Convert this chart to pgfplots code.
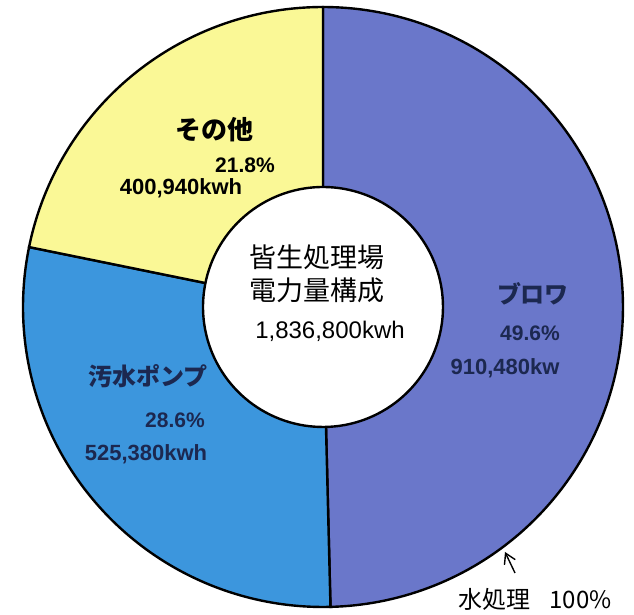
\documentclass[border=0pt]{standalone}
\usepackage{pgfplots}
\pgfplotsset{compat=1.18}
\usepackage{fontspec}
\setmainfont{Liberation Sans}
\newfontfamily\jp{Noto Sans CJK JP}
\usetikzlibrary{arrows.meta}
\definecolor{blowcol}{RGB}{106,119,202}
\definecolor{pumpcol}{RGB}{60,150,221}
\definecolor{othcol}{RGB}{250,248,150}
\definecolor{navy}{RGB}{28,40,80}
% data (percent of 1,836,800 kWh)
\def\pBlow{49.6}
\def\pPump{28.6}
\def\pOther{21.8}
\begin{document}
\begin{tikzpicture}
\pgfmathsetmacro{\aA}{90}
\pgfmathsetmacro{\aB}{90-3.6*\pBlow}
\pgfmathsetmacro{\aC}{\aB-3.6*\pPump}
\pgfmathsetmacro{\aD}{\aC-3.6*\pOther}
\begin{axis}[
  scale only axis, width=317pt, height=307.5pt,
  xmin=0, xmax=634, ymin=0, ymax=615,
  hide axis, clip=false,
]
\addplot[fill=blowcol, draw=black, line width=1.2pt, domain=\aB:\aA, samples=150]
  ({323+300*cos(x)},{308+300*sin(x)}) -- (axis cs:323,308) -- cycle;
\addplot[fill=pumpcol, draw=black, line width=1.2pt, domain=\aC:\aB, samples=100]
  ({323+300*cos(x)},{308+300*sin(x)}) -- (axis cs:323,308) -- cycle;
\addplot[fill=othcol, draw=black, line width=1.2pt, domain=\aD:\aC, samples=100]
  ({323+300*cos(x)},{308+300*sin(x)}) -- (axis cs:323,308) -- cycle;
\addplot[fill=white, draw=black, line width=1.2pt, domain=0:360, samples=150]
  ({323+120*cos(x)},{308+120*sin(x)}) -- cycle;

% labels
\node[font=\jp\fontsize{13}{15}\selectfont\bfseries] at (axis cs:215,485) {その他};
\node[font=\fontsize{10.5}{12}\selectfont\bfseries] at (axis cs:245,450) {21.8\%};
\node[font=\fontsize{11}{13}\selectfont\bfseries] at (axis cs:181,427) {400,940kwh};

\node[font=\jp\fontsize{13.5}{16.5}\selectfont] at (axis cs:317,358) {皆生処理場};
\node[font=\jp\fontsize{13.5}{16.5}\selectfont] at (axis cs:317,325) {電力量構成};
\node[font=\fontsize{12}{14}\selectfont] at (axis cs:330,284) {1,836,800kwh};

\node[text=navy, font=\jp\fontsize{12}{14}\selectfont\bfseries] at (axis cs:533,321) {ブロワ};
\node[text=navy, font=\fontsize{10.5}{12}\selectfont\bfseries] at (axis cs:530,282) {49.6\%};
\node[text=navy, font=\fontsize{11}{13}\selectfont\bfseries] at (axis cs:505,247) {910,480kw};

\node[text=navy, font=\jp\fontsize{12}{14}\selectfont\bfseries] at (axis cs:148,239) {汚水ポンプ};
\node[text=navy, font=\fontsize{10.5}{12}\selectfont\bfseries] at (axis cs:175,195) {28.6\%};
\node[text=navy, font=\fontsize{11}{13}\selectfont\bfseries] at (axis cs:146,161) {525,380kwh};

\node[font=\jp\fontsize{12}{14}\selectfont] at (axis cs:535,16) {水処理\hspace{0.8em}100\%};
\draw[-{Straight Barb[length=5pt,width=6pt]}, line width=0.7pt] (axis cs:515,42) -- (axis cs:505,63);
\end{axis}
\pgfresetboundingbox
\useasboundingbox (current axis.south west) rectangle (current axis.north east);
\end{tikzpicture}
\end{document}
